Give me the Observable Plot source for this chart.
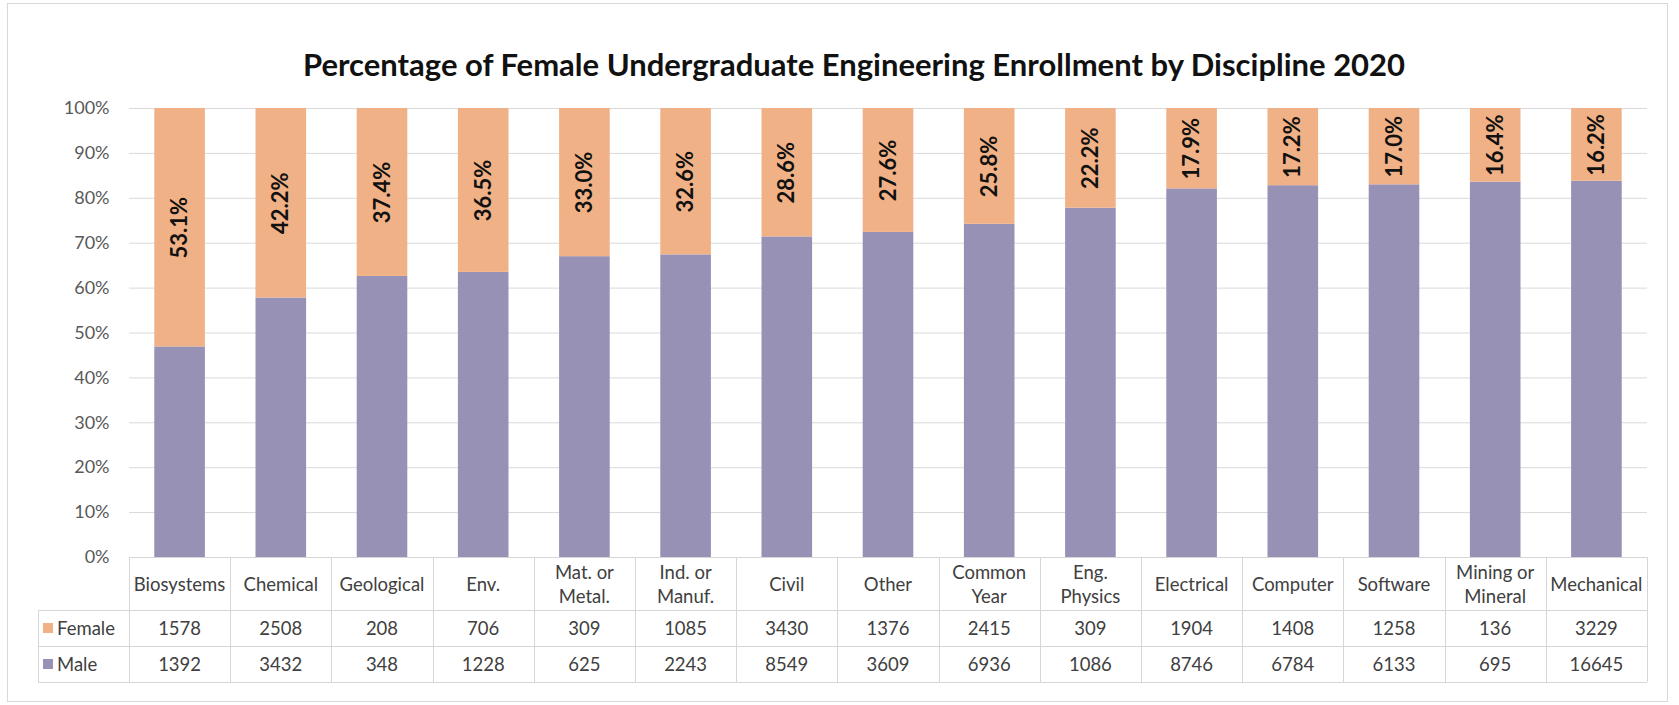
<!DOCTYPE html>
<html><head><meta charset="utf-8">
<script src="https://cdn.jsdelivr.net/npm/d3@7"></script>
<script src="https://cdn.jsdelivr.net/npm/@observablehq/plot@0.6"></script>
<style>
body{margin:0;background:#fff;font-family:Lato,"Open Sans",sans-serif;}
#wrap{position:relative;width:1679px;height:705px;overflow:hidden;background:#fff;}
#frame{position:absolute;left:7px;top:3px;width:1661px;height:699px;border:1px solid #d9d9d9;box-sizing:border-box;}
#title{position:absolute;top:45px;left:0;width:1708px;text-align:center;font-weight:700;font-size:31px;color:#111;line-height:38px;}
#chart{position:absolute;left:0;top:0;}
.cell{position:absolute;display:flex;align-items:center;justify-content:center;text-align:center;white-space:pre-line;font-size:18.5px;color:#404040;line-height:24px;}
.hl,.vl{position:absolute;background:#d6d6d6;}
.sw{display:inline-block;width:10px;height:10px;margin-right:4px;}
</style></head>
<body><div id="wrap"><div id="frame"></div><div id="title">Percentage of Female Undergraduate Engineering Enrollment by Discipline 2020</div><div id="chart"></div></div>
<script>
const categories = ["Biosystems","Chemical","Geological","Env.","Mat. or\nMetal.","Ind. or\nManuf.","Civil","Other","Common\nYear","Eng.\nPhysics","Electrical","Computer","Software","Mining or\nMineral","Mechanical"];
const female = [1578,2508,208,706,309,1085,3430,1376,2415,309,1904,1408,1258,136,3229];
const male = [1392,3432,348,1228,625,2243,8549,3609,6936,1086,8746,6784,6133,695,16645];
const femalePct = [53.1,42.2,37.4,36.5,33.0,32.6,28.6,27.6,25.8,22.2,17.9,17.2,17.0,16.4,16.2];
const seriesColors = {Female:"#f1b186", Male:"#9891b6"};
const yTicks = [0,0.1,0.2,0.3,0.4,0.5,0.6,0.7,0.8,0.9,1];

const rows = categories.flatMap((c,i)=>[
  {cat:c, gender:"Male", share:(100 - femalePct[i])/100},
  {cat:c, gender:"Female", share:femalePct[i]/100}
]);
const labels = categories.map((c,i)=>({cat:c, pct:femalePct[i], mid:1 - femalePct[i]/200}));

const W = 1679, ML = 129, MR = 32;
const plot = Plot.plot({
  width:W, height:560, marginTop:108, marginBottom:3, marginLeft:ML, marginRight:MR,
  style:{fontFamily:"Lato, 'Open Sans', sans-serif", fontSize:"18px", color:"#595959", background:"transparent", overflow:"visible"},
  x:{domain:categories, paddingInner:0.5, paddingOuter:0.25, round:false, axis:null},
  y:{domain:[0,1], ticks:yTicks, tickFormat:d3.format(".0%"), tickSize:0, tickPadding:20, label:null},
  color:{domain:["Female","Male"], range:[seriesColors.Female, seriesColors.Male]},
  marks:[
    Plot.ruleY(yTicks, {stroke:"#d9d9d9", strokeWidth:1}),
    Plot.barY(rows, {x:"cat", y:"share", fill:"gender"}),
    Plot.text(labels, {x:"cat", y:"mid", text:d=>d.pct.toFixed(1)+"%", rotate:-90, fontWeight:"bold", fontSize:22, fill:"#111"})
  ]
});
document.getElementById("chart").appendChild(plot);

// data table below the chart, aligned to the x band scale
const wrap = document.getElementById("wrap");
const xs = plot.scale("x");
const x0 = xs.range ? Math.min(...xs.range) : ML;
const x1 = xs.range ? Math.max(...xs.range) : W - MR;
const step = (x1 - x0) / categories.length;
const rowY = [557, 610, 646, 682];
const headLeft = 38;
function add(cls, style, text){
  const d = document.createElement("div");
  d.className = cls;
  Object.assign(d.style, style);
  if (text !== undefined) d.textContent = text;
  wrap.appendChild(d);
  return d;
}
add("hl",{left:x0+"px",top:rowY[0]+"px",width:(x1-x0)+"px",height:"1px"});
for (let r=1;r<4;r++) add("hl",{left:headLeft+"px",top:rowY[r]+"px",width:(x1-headLeft)+"px",height:"1px"});
add("vl",{left:headLeft+"px",top:rowY[1]+"px",width:"1px",height:(rowY[3]-rowY[1])+"px"});
for (let i=0;i<=categories.length;i++) add("vl",{left:(x0+i*step)+"px",top:rowY[0]+"px",width:"1px",height:(rowY[3]-rowY[0])+"px"});
categories.forEach((c,i)=>{
  add("cell",{left:(x0+i*step)+"px",top:rowY[0]+"px",width:step+"px",height:(rowY[1]-rowY[0])+"px"}, c);
});
const tableRows = [["Female", female],["Male", male]];
tableRows.forEach(([name, vals], r)=>{
  const top = rowY[r+1], h = rowY[r+2]-rowY[r+1];
  const hd = add("cell",{left:headLeft+"px",top:top+"px",width:(x0-headLeft)+"px",height:h+"px",justifyContent:"flex-start",paddingLeft:"5px",boxSizing:"border-box"});
  const sw = document.createElement("span"); sw.className="sw"; sw.style.background = seriesColors[name];
  hd.appendChild(sw); hd.appendChild(document.createTextNode(name));
  vals.forEach((v,i)=>add("cell",{left:(x0+i*step)+"px",top:top+"px",width:step+"px",height:h+"px"}, String(v)));
});
</script></body></html>
